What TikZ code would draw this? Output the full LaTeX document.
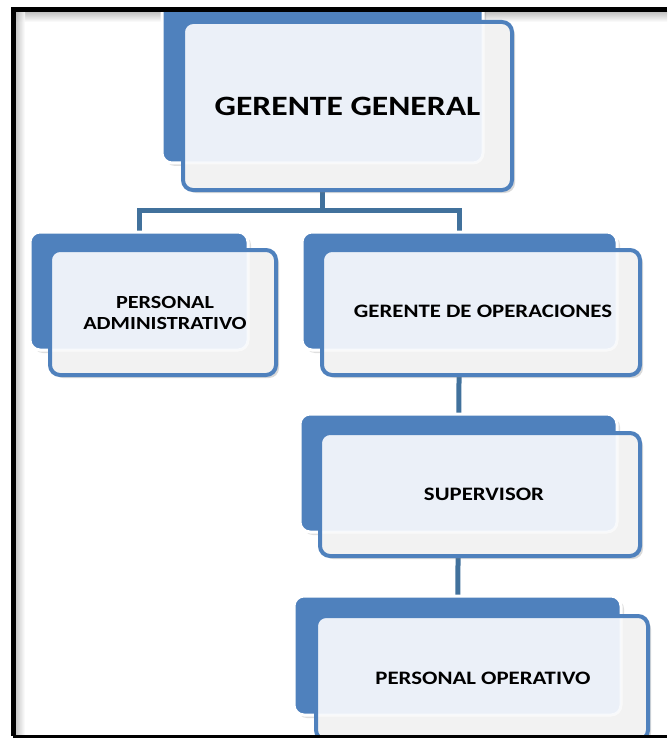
\documentclass[tikz,border=0pt]{standalone}
\usepackage{fontspec}
\setmainfont{Carlito}
\usetikzlibrary{fit,shadows,backgrounds,calc}
\definecolor{blueA}{HTML}{4F81BD}
\definecolor{blueD}{HTML}{41719C}
\definecolor{frontgray}{HTML}{F2F2F2}
\definecolor{fronttint}{HTML}{EBF0F8}
\tikzset{
  backbox/.style={fill=blueA, draw=white, line width=3pt, rounded corners=10pt, inner sep=0pt, outer sep=0pt,
    drop shadow={opacity=0.25, shadow xshift=3pt, shadow yshift=-3pt}},
  frontbox/.style={fill=frontgray, rounded corners=10pt, inner sep=0pt, outer sep=0pt,
    drop shadow={opacity=0.3, shadow xshift=3pt, shadow yshift=-3pt}},
  frontline/.style={draw=blueA, line width=4pt, rounded corners=10pt},
  conn/.style={draw=blueD, line width=5pt},
  lbl/.style={align=center, font=\bfseries\fontsize{19}{21}\selectfont, text=black, inner sep=0pt},
  biglbl/.style={lbl, font=\bfseries\fontsize{28}{32}\selectfont},
}
\newcommand\wide[1]{\scalebox{1.2}[1]{#1}}
% #1 name, #2 back top-left, #3 back bottom-right, #4 front top-left, #5 front bottom-right
\newcommand\orgunit[5]{%
  \node[backbox, fit={(#2)(#3)}] (#1b) {};
  \node[frontbox, fit={(#4)(#5)}] (#1) {};
  \begin{scope}
    \clip[rounded corners=10pt] (#1.south west) rectangle (#1.north east);
    \fill[fronttint, rounded corners=10pt] (#1b.south west) rectangle (#1b.north east);
    \draw[white, line width=3pt, opacity=0.6, rounded corners=10pt] (#1b.south west) rectangle (#1b.north east);
  \end{scope}
  \draw[frontline] (#1.south west) rectangle (#1.north east);
}
\begin{document}
\begin{tikzpicture}[x=1pt,y=-1pt]
\useasboundingbox (0,0) rectangle (667,738);
% units
\orgunit{gg}{162,-2}{483,163}{183,22}{512,190}
\orgunit{pa}{30,232}{248,350}{50,250}{276,375}
\orgunit{go}{302,232}{617,350}{322,250}{640,375}
\orgunit{sup}{300,414}{617,532}{320,433}{640,556}
\orgunit{po}{294,596}{621,715}{316,616}{648,740}
% frame inner shadow and connectors, behind the boxes
\coordinate (bar) at (0,210);
\begin{scope}[on background layer]
  \shade[top color=black!30, bottom color=white, opacity=0.8] (15,12) rectangle (667,22);
  \shade[left color=black!30, right color=white, opacity=0.8] (15,12) rectangle (25,735);
  \draw[conn] (ggb.center) -- (ggb.center |- bar);
  \draw[conn] (pab.center) -- (pab.center |- bar) -- (gob.center |- bar) -- (gob.center);
  \draw[conn] (gob.center) -- (supb.center);
  \draw[conn] (supb.center) -- (pob.center);
\end{scope}
% labels
\node[biglbl] (ggt) at (gg.center) {\wide{GERENTE GENERAL}};
\node[lbl, font=\bfseries\fontsize{18.5}{21}\selectfont] (pat) at ($(pa.center)+(2,0)$) {\wide{PERSONAL}\\\wide{ADMINISTRATIVO}};
\node[lbl] (got) at ($(go.center)+(2,-1)$) {\wide{GERENTE DE OPERACIONES}};
\node[lbl] (supt) at ($(sup.center)+(4,0)$) {\wide{SUPERVISOR}};
\node[lbl] (pot) at ($(po.center)+(1,0)$) {\wide{PERSONAL OPERATIVO}};
% margin outside frame
\fill[white] (0,0) rectangle (667,9);
% frame
\draw[black, line width=5pt] (667,10) -- (13,10) -- (13,736);
\draw[black, line width=3pt] (13,736) -- (667,736);
\end{tikzpicture}
\end{document}
